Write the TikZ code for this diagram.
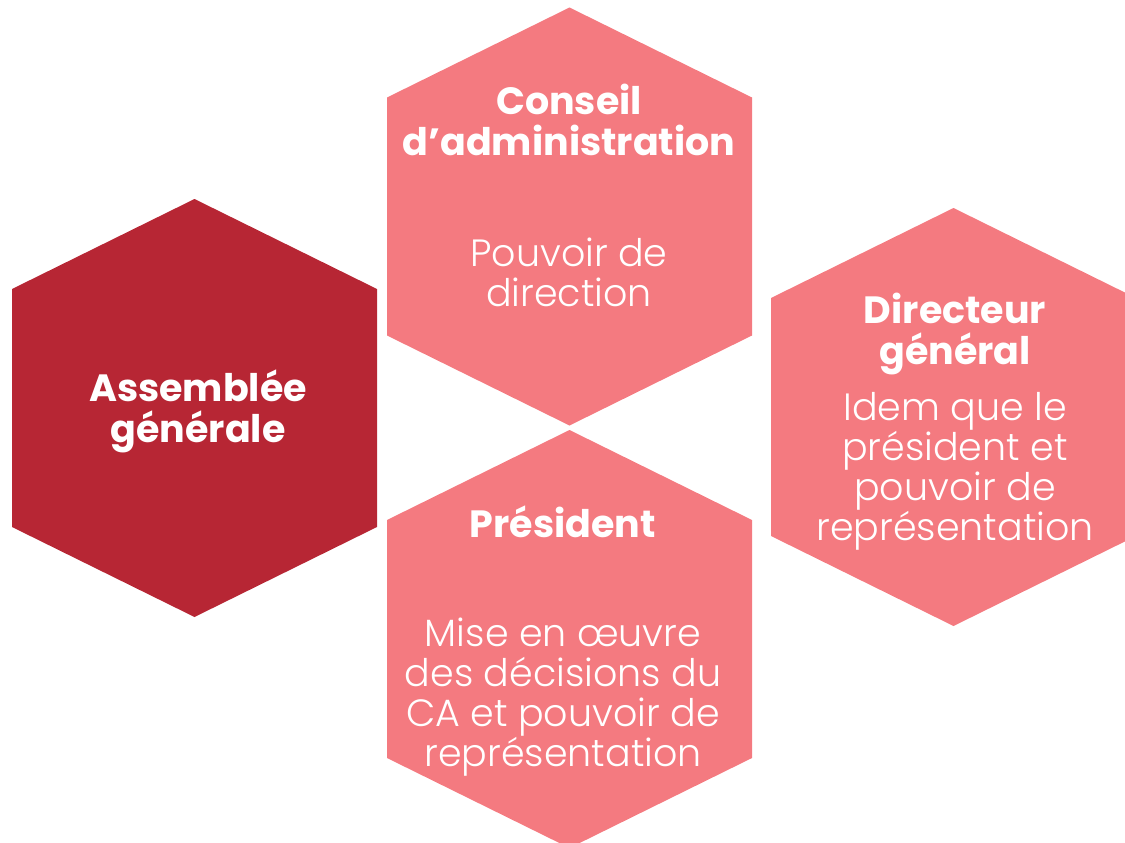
\documentclass[tikz,border=0pt]{standalone}
\usepackage{fontspec}
\setmainfont{Poppins}
\newfontfamily\lightfont{Poppins Light}
\definecolor{darkhex}{RGB}{183,38,52}
\definecolor{pinkhex}{RGB}{244,122,128}
\tikzset{
  hexfill/.style={fill=#1, draw=none},
  title/.style={text=white, align=center, inner sep=0pt, font=\fontsize{38}{41}\selectfont\bfseries},
  body/.style={text=white, align=center, inner sep=0pt, font=\fontsize{38}{40}\lightfont},
}
% hexagon with pointed top and bottom, centred on (#1,#2)
\newcommand{\hexat}[3]{%
  \fill[hexfill=#3] (#1,#2-209) -- (#1+182.5,#2-119) -- (#1+182.5,#2+119)
    -- (#1,#2+209) -- (#1-182.5,#2+119) -- (#1-182.5,#2-119) -- cycle;}
\begin{document}
\begin{tikzpicture}[x=1pt,y=-1pt]
\useasboundingbox (0,0) rectangle (1125,843);
\begin{scope}
\clip (0,0) rectangle (1125,843);
\hexat{194.5}{408}{darkhex}
\hexat{569.5}{216.5}{pinkhex}
\hexat{569.5}{639}{pinkhex}
\hexat{953.5}{417}{pinkhex}
\end{scope}

\node[title] (ag) at (198,411) {Assemblée\\générale};

\node[title] (ca) at (569,120) {Conseil\\d’administration};
\node[body] (cab) at (569,272) {Pouvoir de\\direction};

\node[title] (pr) at (563,522) {Président};
\node[body] (prb) at (563,697) {Mise en œuvre\\des décisions du\\CA et pouvoir de\\représentation};

\node[title] (dg) at (955,334) {Directeur\\général};
\node[body] (dgb) at (955,471) {Idem que le\\président et\\pouvoir de\\représentation};
\end{tikzpicture}
\end{document}
